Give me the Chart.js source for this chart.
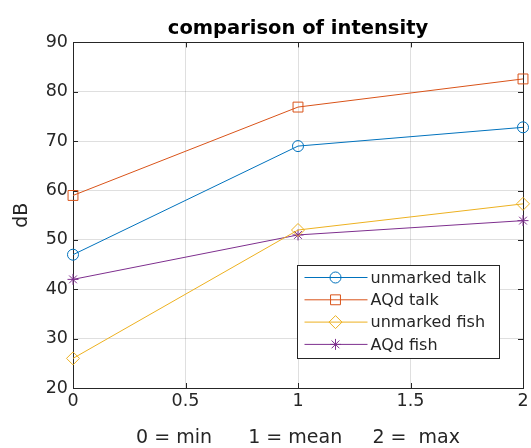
<!DOCTYPE html>
<html>
<head>
<meta charset="utf-8">
<script src="https://cdn.jsdelivr.net/npm/chart.js@4.4.0/dist/chart.umd.min.js"></script>
<style>
  html, body { margin: 0; padding: 0; background: #fff; }
</style>
</head>
<body>
<canvas id="myChart" width="531" height="448"></canvas>
<script>
// measurements: 0 = min, 1 = mean, 2 = max
const xValues = [0, 1, 2];
const seriesNames = ['unmarked talk', 'AQd talk', 'unmarked fish', 'AQd fish'];
const unmarkedTalk = [47, 69, 72.8];
const aqdTalk = [59, 76.9, 82.6];
const unmarkedFish = [26, 52, 57.3];
const aqdFish = [42, 51, 53.9];
const xTicks = [0, 0.5, 1, 1.5, 2];
const yTicks = [20, 30, 40, 50, 60, 70, 80, 90];

const axisColor = '#262626';
const gridColor = 'rgba(38,38,38,0.15)';

Chart.defaults.font.family = "'DejaVu Sans', sans-serif";

function makeSet(label, values, color, style, radius) {
    return {
        label: label,
        data: xValues.map((x, i) => ({ x: x, y: values[i] })),
        borderColor: color,
        backgroundColor: 'rgba(0,0,0,0)',
        borderWidth: 1,
        pointStyle: style,
        pointRadius: radius,
        pointBorderColor: color,
        pointBackgroundColor: 'rgba(0,0,0,0)',
        pointBorderWidth: 1,
        tension: 0,
        clip: false
    };
}

// box around the plot with inward tick marks on all four sides
const axesBox = {
    id: 'axesBox',
    beforeDatasetsDraw(chart) {
        const { ctx, chartArea: a, scales: { x, y } } = chart;
        const len = 5;
        ctx.save();
        ctx.strokeStyle = axisColor;
        ctx.lineWidth = 1;
        ctx.beginPath();
        xTicks.forEach(v => {
            const px = Math.round(x.getPixelForValue(v)) + 0.5;
            ctx.moveTo(px, a.bottom); ctx.lineTo(px, a.bottom - len);
            ctx.moveTo(px, a.top); ctx.lineTo(px, a.top + len);
        });
        yTicks.forEach(v => {
            const py = Math.round(y.getPixelForValue(v)) + 0.5;
            ctx.moveTo(a.left, py); ctx.lineTo(a.left + len, py);
            ctx.moveTo(a.right, py); ctx.lineTo(a.right - len, py);
        });
        ctx.stroke();
        ctx.strokeRect(Math.round(a.left) + 0.5, Math.round(a.top) + 0.5,
            Math.round(a.right - a.left), Math.round(a.bottom - a.top));
        ctx.restore();
    }
};

// legend box in the lower right corner of the plot
const boxLegend = {
    id: 'boxLegend',
    afterDatasetsDraw(chart) {
        const { ctx, chartArea: a } = chart;
        const w = 202, h = 93;
        const left = Math.round(a.right) - 24 - w + 0.5;
        const top = Math.round(a.bottom) - 30 - h + 0.5;
        ctx.save();
        ctx.fillStyle = '#fff';
        ctx.fillRect(left, top, w, h);
        ctx.strokeStyle = axisColor;
        ctx.lineWidth = 1;
        ctx.strokeRect(left, top, w, h);
        chart.data.datasets.forEach((ds, i) => {
            const ry = top + 12 + i * 22.3;
            ctx.strokeStyle = ds.borderColor;
            ctx.lineWidth = 1;
            ctx.beginPath();
            ctx.moveTo(left + 7, ry);
            ctx.lineTo(left + 70, ry);
            ctx.stroke();
            ctx.fillStyle = 'rgba(0,0,0,0)';
            Chart.helpers.drawPoint(ctx, {
                pointStyle: ds.pointStyle,
                radius: ds.pointRadius,
                borderWidth: 1,
                rotation: 0
            }, left + 38, ry);
            ctx.fillStyle = axisColor;
            ctx.font = "16px 'DejaVu Sans', sans-serif";
            ctx.textBaseline = 'middle';
            ctx.textAlign = 'left';
            ctx.fillText(ds.label, left + 73, ry + 1);
        });
        ctx.restore();
    }
};

const ctx = document.getElementById('myChart');

const chart = new Chart(ctx, {
    type: 'line',
    data: {
        datasets: [
            makeSet(seriesNames[0], unmarkedTalk, '#0072BD', 'circle', 5.5),
            makeSet(seriesNames[1], aqdTalk, '#D95319', 'rect', 7),
            makeSet(seriesNames[2], unmarkedFish, '#EDB120', 'rectRot', 6.5),
            makeSet(seriesNames[3], aqdFish, '#7E2F8E', 'star', 5.5)
        ]
    },
    options: {
        responsive: false,
        animation: false,
        events: [],
        layout: { padding: 0 },
        plugins: {
            legend: { display: false },
            tooltip: { enabled: false },
            title: {
                display: true,
                fullSize: false,
                text: 'comparison of intensity',
                color: '#000',
                font: { size: 19.5, weight: 'bold' },
                padding: { top: 17, bottom: 2 }
            }
        },
        scales: {
            x: {
                type: 'linear',
                min: 0,
                max: 2,
                afterBuildTicks: s => { s.ticks = xTicks.map(v => ({ value: v })); },
                afterFit: s => { s.height = 60; s.paddingLeft = 0; s.paddingRight = 0; },
                grid: { color: gridColor, drawTicks: false },
                border: { display: false },
                ticks: {
                    color: axisColor,
                    font: { size: 17.5 },
                    padding: 3,
                    maxRotation: 0,
                    callback: v => String(v)
                },
                title: {
                    display: true,
                    text: '0 = min      1 = mean     2 =  max',
                    color: axisColor,
                    font: { size: 19, lineHeight: 1 },
                    padding: 0
                }
            },
            y: {
                type: 'linear',
                min: 20,
                max: 90,
                afterBuildTicks: s => { s.ticks = yTicks.map(v => ({ value: v })); },
                afterFit: s => { s.width = 73; s.paddingTop = 0; s.paddingBottom = 0; },
                grid: { color: gridColor, drawTicks: false },
                border: { display: false },
                ticks: { color: axisColor, font: { size: 17.5 }, padding: 5 },
                title: {
                    display: true,
                    text: 'dB',
                    color: axisColor,
                    font: { size: 19 },
                    padding: { top: 11, bottom: 0 }
                }
            }
        }
    },
    plugins: [axesBox, boxLegend]
});
</script>
</body>
</html>
